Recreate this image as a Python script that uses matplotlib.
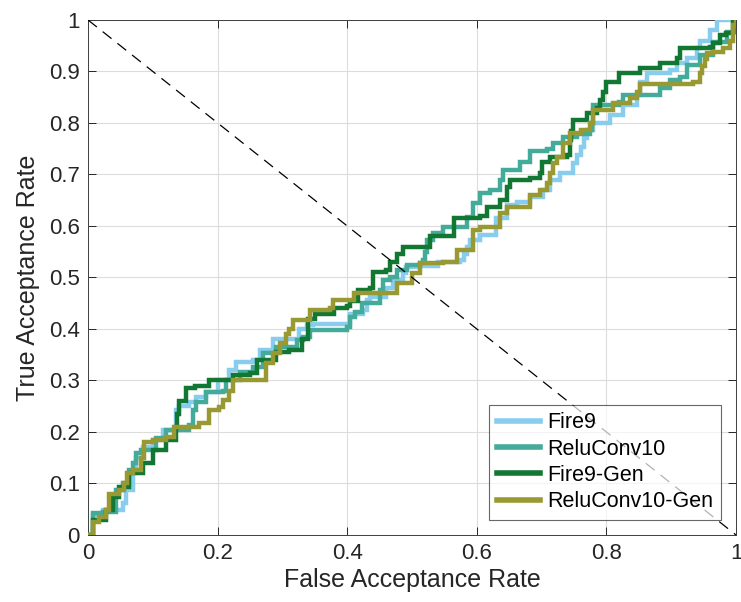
import matplotlib
matplotlib.use("Agg")
import matplotlib.pyplot as plt

plt.rcParams['font.family'] = ['Liberation Sans', 'DejaVu Sans']

# --- curvas ROC (FAR, TAR) ---
far_fire9 = [0, 0.008, 0.023, 0.054, 0.059, 0.07, 0.074, 0.085, 0.10, 0.116, 0.136, 0.14, 0.156, 0.167,
             0.182, 0.20, 0.218, 0.228, 0.255, 0.265, 0.286, 0.31, 0.325, 0.338, 0.347, 0.40, 0.405,
             0.424, 0.43, 0.435, 0.46, 0.47, 0.486, 0.49, 0.512, 0.54, 0.574, 0.58, 0.585, 0.59, 0.605,
             0.63, 0.647, 0.662, 0.682, 0.702, 0.713, 0.728, 0.748, 0.754, 0.76, 0.765, 0.77, 0.78,
             0.805, 0.826, 0.847, 0.852, 0.862, 0.898, 0.909, 0.924, 0.94, 0.944, 0.96, 0.97, 1.0]
tar_fire9 = [0, 0.039, 0.048, 0.062, 0.087, 0.12, 0.15, 0.17, 0.185, 0.204, 0.243, 0.25, 0.258, 0.268,
             0.278, 0.30, 0.32, 0.336, 0.34, 0.36, 0.38, 0.38, 0.40, 0.408, 0.41, 0.41, 0.43,
             0.437, 0.456, 0.462, 0.48, 0.495, 0.508, 0.52, 0.522, 0.53, 0.534, 0.545, 0.56, 0.573, 0.582,
             0.615, 0.64, 0.647, 0.656, 0.67, 0.69, 0.703, 0.722, 0.738, 0.753, 0.77, 0.786, 0.80,
             0.815, 0.835, 0.854, 0.88, 0.897, 0.903, 0.917, 0.926, 0.946, 0.96, 0.98, 1.0, 1.0]

far_relu = [0, 0.008, 0.023, 0.043, 0.054, 0.063, 0.07, 0.074, 0.082, 0.105, 0.12, 0.156, 0.162, 0.167,
            0.182, 0.208, 0.213, 0.235, 0.255, 0.27, 0.29, 0.322, 0.332, 0.343, 0.40, 0.405, 0.412,
            0.423, 0.45, 0.455, 0.466, 0.477, 0.492, 0.512, 0.517, 0.52, 0.523, 0.533, 0.548, 0.585, 0.594,
            0.605, 0.62, 0.636, 0.64, 0.667, 0.682, 0.708, 0.718, 0.733, 0.755, 0.775, 0.777, 0.779, 0.78,
            0.82, 0.826, 0.852, 0.883, 0.898, 0.914, 0.924, 0.944, 0.965, 0.986, 1.0]
tar_relu = [0, 0.043, 0.045, 0.087, 0.10, 0.126, 0.14, 0.16, 0.165, 0.188, 0.204, 0.214, 0.243, 0.258,
            0.278, 0.28, 0.30, 0.316, 0.326, 0.353, 0.365, 0.378, 0.385, 0.398, 0.404, 0.423, 0.433,
            0.45, 0.476, 0.495, 0.50, 0.515, 0.524, 0.528, 0.534, 0.55, 0.573, 0.586, 0.598, 0.617, 0.645,
            0.664, 0.67, 0.69, 0.709, 0.724, 0.745, 0.75, 0.762, 0.772, 0.778, 0.786, 0.80, 0.815, 0.835,
            0.84, 0.854, 0.855, 0.868, 0.883, 0.89, 0.913, 0.932, 0.957, 0.977, 1.0]

far_fire9_gen = [0, 0.008, 0.028, 0.039, 0.048, 0.063, 0.085, 0.10, 0.12, 0.136, 0.138, 0.14, 0.151,
                 0.165, 0.187, 0.224, 0.25, 0.26, 0.286, 0.29, 0.31, 0.33, 0.34, 0.35, 0.38, 0.40,
                 0.405, 0.417, 0.435, 0.44, 0.46, 0.466, 0.477, 0.486, 0.523, 0.528, 0.543, 0.564,
                 0.605, 0.615, 0.636, 0.646, 0.651, 0.682, 0.698, 0.70, 0.713, 0.739, 0.744, 0.746,
                 0.748, 0.77, 0.785, 0.79, 0.795, 0.80, 0.82, 0.852, 0.883, 0.909, 0.914, 0.96, 0.965,
                 0.975, 0.985, 0.995, 1.0]
tar_fire9_gen = [0, 0.03, 0.048, 0.074, 0.093, 0.12, 0.14, 0.165, 0.185, 0.21, 0.235, 0.26, 0.285,
                 0.29, 0.30, 0.31, 0.315, 0.34, 0.34, 0.355, 0.36, 0.38, 0.42, 0.43, 0.44, 0.445,
                 0.455, 0.475, 0.48, 0.51, 0.515, 0.53, 0.545, 0.56, 0.56, 0.58, 0.58, 0.615,
                 0.62, 0.637, 0.65, 0.676, 0.69, 0.693, 0.703, 0.724, 0.734, 0.738, 0.767, 0.785,
                 0.805, 0.82, 0.83, 0.845, 0.86, 0.88, 0.897, 0.907, 0.917, 0.926, 0.946, 0.948, 0.956,
                 0.97, 0.975, 0.996, 1.0]

far_relu_gen = [0, 0.008, 0.017, 0.028, 0.033, 0.048, 0.055, 0.06, 0.07, 0.082, 0.087, 0.10, 0.12,
                0.133, 0.165, 0.171, 0.187, 0.202, 0.208, 0.218, 0.224, 0.255, 0.275, 0.286, 0.296,
                0.305, 0.31, 0.317, 0.343, 0.373, 0.378, 0.41, 0.45, 0.477, 0.50, 0.512, 0.548, 0.57,
                0.594, 0.605, 0.636, 0.646, 0.682, 0.698, 0.708, 0.713, 0.718, 0.724, 0.733, 0.744,
                0.76, 0.775, 0.78, 0.81, 0.836, 0.847, 0.852, 0.924, 0.934, 0.944, 0.948, 0.952,
                0.955, 0.965, 0.98, 0.99, 0.995, 1.0]
tar_relu_gen = [0, 0.025, 0.035, 0.048, 0.08, 0.087, 0.10, 0.12, 0.126, 0.15, 0.18, 0.185, 0.19,
                0.21, 0.21, 0.217, 0.243, 0.249, 0.262, 0.28, 0.30, 0.30, 0.334, 0.353, 0.373,
                0.39, 0.40, 0.417, 0.437, 0.44, 0.456, 0.47, 0.47, 0.489, 0.508, 0.528, 0.53, 0.553,
                0.592, 0.598, 0.625, 0.637, 0.66, 0.67, 0.683, 0.703, 0.722, 0.734, 0.761, 0.78,
                0.786, 0.80, 0.825, 0.839, 0.849, 0.86, 0.876, 0.876, 0.88, 0.897, 0.91, 0.925,
                0.936, 0.937, 0.946, 0.96, 0.99, 1.0]

nomes = ['Fire9', 'ReluConv10', 'Fire9-Gen', 'ReluConv10-Gen']
cores = ['#88CCEE', '#44AA99', '#117733', '#999933']
dados = [(far_fire9, tar_fire9), (far_relu, tar_relu),
         (far_fire9_gen, tar_fire9_gen), (far_relu_gen, tar_relu_gen)]

fig = plt.figure(figsize=(7.41, 6.02), dpi=100)
ax = fig.add_axes([0.1188, 0.1113, 0.8745, 0.8555])

# linha do EER
ax.plot([0, 1], [1, 0], color='black', linestyle=(0, (9, 6)), linewidth=0.9, zorder=5)

for (fx, ty), nome, cor in zip(dados, nomes, cores):
    ax.plot(fx, ty, drawstyle='steps-post', color=cor, linewidth=3.2, label=nome,
            solid_joinstyle='miter', zorder=3)

ax.set_xlim(0, 1)
ax.set_ylim(0, 1)
ax.set_xticks([0, 0.2, 0.4, 0.6, 0.8, 1])
ax.set_xticklabels(['0', '0.2', '0.4', '0.6', '0.8', '1'])
ax.set_yticks([i / 10 for i in range(11)])
ax.set_yticklabels(['0'] + [f'{i/10:g}' for i in range(1, 10)] + ['1'])
ax.tick_params(direction='in', top=True, right=True, labelsize=16, colors='#262626',
               length=5.5, width=0.7, pad=6)
ax.grid(True, color='#dcdcdc', linewidth=0.8)
ax.set_axisbelow(True)
for s in ax.spines.values():
    s.set_color('#404040')
    s.set_linewidth(0.7)

ax.set_xlabel('False Acceptance Rate', fontsize=18, color='#262626', labelpad=3)
ax.set_ylabel('True Acceptance Rate', fontsize=18, color='#262626', labelpad=6)

leg = ax.legend(loc='lower right', fontsize=15.5, frameon=True, fancybox=False,
                borderaxespad=0.7, handlelength=2.0, handletextpad=0.35,
                labelspacing=0.25, borderpad=0.35)
leg.get_frame().set_edgecolor('#262626')
leg.get_frame().set_linewidth(0.8)
leg.get_frame().set_alpha(0.7)
leg.set_zorder(10)
for linha in leg.get_lines():
    linha.set_linewidth(4)

plt.savefig('out.png', dpi=100)
